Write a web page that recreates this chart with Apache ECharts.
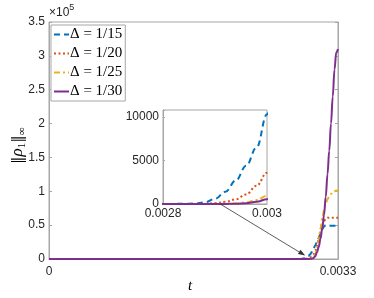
<!DOCTYPE html>
<html><head><meta charset="utf-8">
<script src="https://cdn.jsdelivr.net/npm/echarts@6/dist/echarts.min.js"></script>
<style>html,body{margin:0;padding:0;background:#fff}#c{width:374px;height:298px}</style>
</head><body><div id="c"></div>
<script>
const t = [0, 0.0028, 0.00284, 0.00286, 0.00288, 0.0029, 0.00292, 0.00294, 0.00296, 0.00298, 0.003,
  0.00302, 0.00304, 0.00306, 0.00308, 0.0031, 0.00312, 0.00314, 0.00316, 0.00318, 0.0032,
  0.00322, 0.00324, 0.00326, 0.00328, 0.0033];
const d15 = [0, 0, 20, 60, 180, 600, 1400, 2700, 4400, 6500, 10300,
  15000, 20000, 25500, 31000, 38000, 44000, 48000, 50000, 50000, 49500,
  49000, 49000, 49000, 49000, 49000];
const d20 = [0, 0, 0, 5, 30, 100, 250, 550, 1100, 2100, 3600,
  7000, 12000, 20000, 30000, 40000, 50000, 56000, 59000, 61000, 61000,
  61000, 61000, 61000, 61000, 61000];
const d25 = [0, 0, 0, 0, 0, 10, 20, 50, 200, 450, 950,
  2500, 6000, 14000, 28000, 45000, 60000, 72000, 81000, 88000, 93000,
  96000, 99000, 100000, 101000, 100000];
const d30 = [0, 0, 0, 0, 0, 0, 10, 30, 80, 250, 550,
  1500, 4000, 10000, 18000, 30000, 45000, 65000, 92000, 125000, 160000,
  200000, 240000, 280000, 305000, 310000];
const names = ['Δ = 1/15', 'Δ = 1/20', 'Δ = 1/25', 'Δ = 1/30'];
const seriesData = [d15, d20, d25, d30];
const mainXTicks = [0, 0.0033];
const mainYTicks = [0, 50000, 100000, 150000, 200000, 250000, 300000, 350000];
const insetXTicks = [0.0028, 0.003];
const insetYTicks = [0, 5000, 10000];

const colors = ['#0072BD', '#D95319', '#EDB120', '#7E2F8E'];
const dashes = [[6, 4], [2, 2.5], [6, 3, 2, 3], 'solid'];
const txt = '#262626';
const frame = '#a6a6a6';
const sans = 'Liberation Sans';
const serif = 'Liberation Serif';

function pairs(arr) { return t.map((x, i) => [x, arr[i]]); }
function near(v, list) { return list.some(x => Math.abs(x - v) < 1e-9); }

const series = [];
seriesData.forEach((arr, i) => {
  series.push({
    name: names[i], type: 'line', xAxisIndex: 0, yAxisIndex: 0, data: pairs(arr),
    symbol: 'none', showSymbol: false, smooth: 0.4, smoothMonotone: 'x', z: 2 + i,
    lineStyle: { color: colors[i], width: 2, type: dashes[i] }, itemStyle: { color: colors[i] }
  });
});
seriesData.forEach((arr, i) => {
  series.push({
    name: 'inset' + i, type: 'line', xAxisIndex: 1, yAxisIndex: 2, data: pairs(arr),
    symbol: 'none', showSymbol: false, smooth: 0.4, smoothMonotone: 'x', z: 20 + i, clip: true,
    lineStyle: { color: colors[i], width: 2, type: dashes[i] }, itemStyle: { color: colors[i] }
  });
});

const baseGraphic = [
  { type: 'text', left: 49, top: 3, style: { text: '{a|×10}{s|5}', rich: {
      a: { fontFamily: sans, fontSize: 12, fill: txt, padding: [6, 0, 0, 0] },
      s: { fontFamily: sans, fontSize: 9, fill: txt, padding: [0, 0, 4, 0] } } } },
  { type: 'text', x: 8, y: 164, rotation: Math.PI / 2, style: {
      text: '{b|‖}{r|ρ}{s|1}{b|‖}{s|∞}', rich: {
        b: { fontFamily: 'DejaVu Serif', fontSize: 15, fill: '#000' },
        r: { fontFamily: serif, fontStyle: 'italic', fontSize: 17, fill: '#000' },
        s: { fontFamily: serif, fontSize: 11, fill: '#000', padding: [9, 0, 0, 0] } } } },
  { type: 'text', left: 188, top: 279, style: { text: 't', fontFamily: serif, fontStyle: 'italic', fontSize: 15, fill: '#000' } }
];

const chart = echarts.init(document.getElementById('c'), null, { renderer: 'canvas' });
chart.setOption({
  animation: false,
  backgroundColor: '#fff',
  grid: [
    { left: 49, top: 22, width: 289, height: 237, show: true, borderColor: frame, borderWidth: 1, backgroundColor: '#fff' },
    { left: 163, top: 110, width: 104, height: 94, show: true, borderColor: frame, borderWidth: 1, backgroundColor: '#fff', z: 10 }
  ],
  xAxis: [
    { type: 'value', gridIndex: 0, min: 0, max: 0.0033, interval: 0.0033,
      axisLine: { show: true, lineStyle: { color: frame } },
      axisTick: { show: false }, splitLine: { show: false },
      axisLabel: { color: txt, fontFamily: sans, fontSize: 12, margin: 7,
        formatter: v => near(v, mainXTicks) ? String(+v.toFixed(4)) : '' } },
    { type: 'value', gridIndex: 1, min: 0.0028, max: 0.003, interval: 0.0002, z: 10,
      axisLine: { show: true, lineStyle: { color: frame } },
      axisTick: { show: false }, splitLine: { show: false },
      axisLabel: { color: txt, fontFamily: sans, fontSize: 12, margin: 4,
        formatter: v => near(v, insetXTicks) ? String(+v.toFixed(4)) : '' } }
  ],
  yAxis: [
    { type: 'value', gridIndex: 0, min: 0, max: 350000, interval: 50000,
      axisLine: { show: true, lineStyle: { color: frame } },
      axisTick: { show: true, inside: true, length: 3, lineStyle: { color: frame } },
      splitLine: { show: false },
      axisLabel: { color: txt, fontFamily: sans, fontSize: 12, margin: 4,
        formatter: v => near(v, mainYTicks) ? String(+(v / 1e5).toFixed(1)) : '' } },
    { type: 'value', gridIndex: 0, position: 'right', min: 0, max: 350000, interval: 50000,
      axisLine: { show: true, lineStyle: { color: frame } },
      axisTick: { show: true, inside: true, length: 3, lineStyle: { color: frame } },
      splitLine: { show: false }, axisLabel: { show: false } },
    { type: 'value', gridIndex: 1, min: 0, max: 10800, interval: 5000, z: 10,
      axisLine: { show: true, lineStyle: { color: frame } },
      axisTick: { show: true, inside: true, length: 2, lineStyle: { color: frame } },
      splitLine: { show: false },
      axisLabel: { color: txt, fontFamily: sans, fontSize: 12, margin: 4,
        formatter: v => near(v, insetYTicks) ? String(v) : '' } }
  ],
  legend: {
    data: names, orient: 'vertical', left: 51, top: 25,
    backgroundColor: '#fff', borderColor: frame, borderWidth: 1,
    padding: [2, 3, 2, 2], itemGap: 4, itemWidth: 15, itemHeight: 14,
    itemStyle: { opacity: 0 },
    lineStyle: { width: 2 },
    textStyle: { fontFamily: serif, fontSize: 15, lineHeight: 14, color: '#000', padding: [0, 0, 0, -4] }
  },
  graphic: baseGraphic,
  series: series
});

const p1 = chart.convertToPixel({ gridIndex: 1 }, [0.00291, 0]);
const p2 = chart.convertToPixel({ gridIndex: 0 }, [0.002925, 5000]);
const ang = Math.atan2(p2[1] - p1[1], p2[0] - p1[0]);
const hl = 7, hw = 2.5;
const bx = p2[0] - hl * Math.cos(ang), by = p2[1] - hl * Math.sin(ang);
chart.setOption({ graphic: baseGraphic.concat([
  { type: 'line', z: 100, shape: { x1: p1[0], y1: p1[1], x2: bx, y2: by }, style: { stroke: '#333', lineWidth: 0.8 } },
  { type: 'polygon', z: 100, shape: { points: [
      [p2[0], p2[1]],
      [bx + hw * Math.sin(ang), by - hw * Math.cos(ang)],
      [bx - hw * Math.sin(ang), by + hw * Math.cos(ang)]] }, style: { fill: '#333' } }
]) }, { replaceMerge: ['graphic'] });
</script></body></html>
